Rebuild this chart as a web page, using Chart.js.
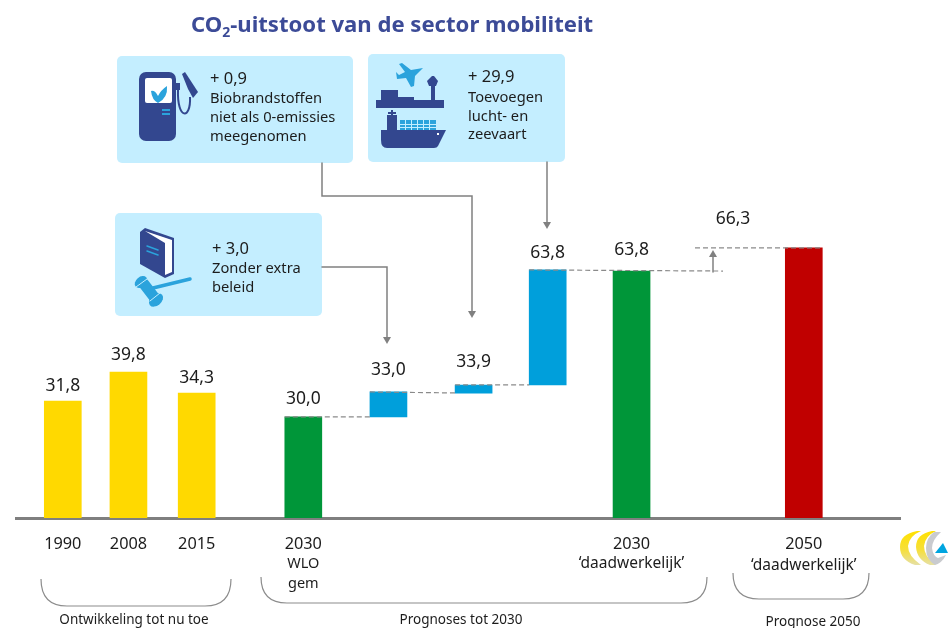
<!DOCTYPE html>
<html>
<head>
<meta charset="utf-8">
<title>CO2-uitstoot mobiliteit</title>
<script src="https://cdn.jsdelivr.net/npm/chart.js@4"></script>
<style>
  html, body { margin: 0; padding: 0; background: #fff; }
  canvas { display: block; }
</style>
</head>
<body>
<canvas id="co2Chart" width="949" height="628"></canvas>
<script>
// tick labels and printed values
const years = ['1990', '2008', '2015', '2030', '', '', '', '2030', '2050'];
const subLabels = ['', '', '', 'WLO|gem', '', '', '', '‘daadwerkelijk’', '‘daadwerkelijk’'];
const printedValues = ['31,8', '39,8', '34,3', '30,0', '33,0', '33,9', '63,8', '63,8', '66,3'];

// the source picture is schematic: bar heights don't follow the printed numbers exactly,
// so bar bottoms/tops are read off the bars themselves
const barBottoms = [0, 0, 0, 0, 27.5, 34.0, 36.2, 0, 0];
const barTops = [31.8, 39.7, 34.0, 27.5, 34.3, 36.2, 67.5, 67.2, 73.5];

// layout, not data
const slots = [0.72, 1.73, 2.78, 4.42, 5.73, 7.04, 8.18, 9.47, 12.12];
const barColors = ['#ffd900', '#ffd900', '#ffd900', '#009639', '#009fdb', '#009fdb', '#009fdb', '#009639', '#c00000'];
const labelLift = [16, 18, 16, 19, 23, 24, 18, 22, 30];

const NAVY = '#33478f';
const CYAN = '#2ba3dc';
const BOX = '#c4eeff';
const GREY = '#808080';
const INK = '#1c1c1c';
const FONT = '"Noto Sans", sans-serif';

function text(ctx, str, x, y, size, align, color, weight) {
    ctx.font = (weight || 'normal') + ' ' + size + 'px ' + FONT;
    ctx.fillStyle = color || INK;
    ctx.textAlign = align || 'left';
    ctx.textBaseline = 'middle';
    ctx.fillText(str, x, y);
}

function line(ctx, pts, color, width, dash) {
    ctx.save();
    ctx.strokeStyle = color;
    ctx.lineWidth = width;
    ctx.lineCap = dash ? 'butt' : 'round';
    ctx.setLineDash(dash || []);
    ctx.beginPath();
    pts.forEach((p, i) => i ? ctx.lineTo(p[0], p[1]) : ctx.moveTo(p[0], p[1]));
    ctx.stroke();
    ctx.restore();
}

function fillPath(ctx, d, color) {
    ctx.fillStyle = color;
    ctx.fill(new Path2D(d));
}

function arrowHead(ctx, x, y, dir) {
    // dir 1 = pointing down, -1 = pointing up
    ctx.fillStyle = GREY;
    ctx.beginPath();
    ctx.moveTo(x, y);
    ctx.lineTo(x - 4, y - 7 * dir);
    ctx.lineTo(x + 4, y - 7 * dir);
    ctx.closePath();
    ctx.fill();
}

function box(ctx, x, y, w, h) {
    ctx.fillStyle = BOX;
    ctx.beginPath();
    ctx.roundRect(x, y, w, h, 5);
    ctx.fill();
}

function drawPump(ctx) {
    ctx.fillStyle = NAVY;
    ctx.beginPath();
    ctx.roundRect(139, 72, 37, 69, 7);
    ctx.fill();
    ctx.fillRect(176, 83, 4, 7);
    ctx.fillStyle = '#fff';
    ctx.beginPath();
    ctx.roundRect(145, 78, 27, 25, 2);
    ctx.fill();
    fillPath(ctx, 'M151 91 Q155 90 158 96 Q161 90 167 86 Q168 98 158 103 Q152 100 151 91 Z', CYAN);
    ctx.fillStyle = CYAN;
    ctx.fillRect(162, 109, 8, 2);
    ctx.fillRect(162, 113, 8, 2);
    ctx.save();
    ctx.strokeStyle = NAVY;
    ctx.lineWidth = 2;
    ctx.beginPath();
    ctx.moveTo(178, 90);
    ctx.bezierCurveTo(177, 120, 191, 120, 190, 97);
    ctx.stroke();
    ctx.restore();
    fillPath(ctx, 'M182 74 L185 72 L198 92 L193 98 L188 89 Z', NAVY);
}

function drawPlanes(ctx) {
    // plane
    fillPath(ctx, 'M423 68 L411 70 L402 63 L399 64 L405 72 L399 75 L396 72 L397 79 L406 78 L411 87 L414 86 L415 76 Z', CYAN);
    // airport and dock
    ctx.fillStyle = NAVY;
    ctx.fillRect(376, 100, 68, 8);
    ctx.fillRect(381, 90, 17, 11);
    ctx.fillRect(398, 97, 16, 4);
    ctx.fillRect(431, 85, 4, 16);
    fillPath(ctx, 'M427 81 L432 76 L434 76 L438 81 L436 86 L429 86 Z', NAVY);
    // container ship
    ctx.fillStyle = CYAN;
    ctx.fillRect(400, 120, 36, 10);
    ctx.fillStyle = BOX;
    [405, 411, 417, 423, 429].forEach(x => ctx.fillRect(x, 120, 1, 10));
    ctx.fillRect(400, 124, 36, 1);
    ctx.fillRect(400, 127, 36, 1);
    ctx.fillStyle = NAVY;
    ctx.fillRect(387, 115, 10, 16);
    ctx.fillRect(391, 110, 2, 6);
    ctx.fillRect(388, 112, 8, 2);
    fillPath(ctx, 'M381 130 L446 130 L438 146 Q437 148 434 148 L387 148 Q381 148 381 140 Z', NAVY);
    ctx.fillStyle = '#fff';
    ctx.fillRect(437, 133, 2, 2);
}

function drawBook(ctx) {
    fillPath(ctx, 'M140 232 L145 228 L174 238 L174 274 L165 278 L140 264 Z', NAVY);
    fillPath(ctx, 'M145 231 L172 240 L172 272 L165 275 L165 243 Z', '#fff');
    line(ctx, [[147, 246], [158, 250]], CYAN, 1.5);
    line(ctx, [[147, 251], [158, 255]], CYAN, 1.5);
    // gavel
    line(ctx, [[153, 288], [190, 279]], CYAN, 3.5);
    line(ctx, [[144, 284], [154, 297]], CYAN, 11);
    ctx.fillStyle = CYAN;
    ctx.beginPath();
    ctx.ellipse(141, 282, 7, 5, -0.7, 0, 7);
    ctx.fill();
    ctx.beginPath();
    ctx.ellipse(156, 300, 8, 5.5, -0.7, 0, 7);
    ctx.fill();
    line(ctx, [[136, 287], [147, 279]], BOX, 1);
    line(ctx, [[150, 301], [160, 293]], BOX, 1);
}

function drawLogo(ctx) {
    const fade = ctx.createLinearGradient(0, 531, 0, 565);
    fade.addColorStop(0, '#ffe100');
    fade.addColorStop(0.55, '#f6df3a');
    fade.addColorStop(1, '#e6e0a6');
    fillPath(ctx, 'M917 531 Q900 534 900 547 Q900 560 915 565 L921 565 Q908 556 908 546 Q909 536 921 531 Z', fade);
    fillPath(ctx, 'M932 531 Q916 534 916 547 Q917 560 930 565 L936 565 Q924 557 924 546 Q925 536 936 531 Z', fade);
    fillPath(ctx, 'M934 532 L941 532 Q932 540 932 548 Q933 556 938 558 L946 555 Q942 563 935 565 Q926 560 926 548 Q926 538 934 532 Z', '#c9cbcf');
    fillPath(ctx, 'M935 553 L943 543 L948 553 Z', '#00a5e0');
}

function drawBrace(ctx, x1, x2, top, bottom, r) {
    ctx.save();
    ctx.strokeStyle = '#8c8c8c';
    ctx.lineWidth = 1.2;
    ctx.beginPath();
    ctx.moveTo(x1, top);
    ctx.quadraticCurveTo(x1, bottom, x1 + r, bottom);
    ctx.lineTo(x2 - r, bottom);
    ctx.quadraticCurveTo(x2, bottom, x2, top);
    ctx.stroke();
    ctx.restore();
}

// everything around the bars: title, callouts, connectors, value labels, braces
const annotations = {
    id: 'annotations',
    afterDatasetsDraw(chart) {
        const ctx = chart.ctx;
        const xS = chart.scales.x;
        const yS = chart.scales.y;
        const topPx = i => yS.getPixelForValue(barTops[i]);
        const barX = i => xS.getPixelForValue(slots[i]);

        // title with subscript
        let tx = 191;
        text(ctx, 'CO', tx, 26, 22.1, 'left', '#3c4b97', 'bold');
        tx += ctx.measureText('CO').width;
        text(ctx, '2', tx, 33, 14, 'left', '#3c4b97', 'bold');
        tx += ctx.measureText('2').width;
        text(ctx, '-uitstoot van de sector mobiliteit', tx, 26, 22.1, 'left', '#3c4b97', 'bold');

        // callout boxes
        box(ctx, 117, 56, 236, 107);
        box(ctx, 368, 54, 197, 108);
        box(ctx, 115, 213, 207, 103);
        drawPump(ctx);
        drawPlanes(ctx);
        drawBook(ctx);

        text(ctx, '+ 0,9', 210, 79, 16.5);
        text(ctx, 'Biobrandstoffen', 210, 99, 14.7);
        text(ctx, 'niet als 0-emissies', 210, 118, 14.7);
        text(ctx, 'meegenomen', 210, 137, 14.7);
        text(ctx, '+ 29,9', 468, 77, 16.5);
        text(ctx, 'Toevoegen', 468, 98, 14.7);
        text(ctx, 'lucht- en', 468, 117, 14.7);
        text(ctx, 'zeevaart', 468, 135, 14.7);
        text(ctx, '+ 3,0', 212, 249, 16.5);
        text(ctx, 'Zonder extra', 212, 269, 14.7);
        text(ctx, 'beleid', 212, 288, 14.7);

        // callout arrows
        line(ctx, [[322, 163], [322, 196], [472, 196], [472, 312]], GREY, 1.5);
        arrowHead(ctx, 472, 318, 1);
        line(ctx, [[547, 162], [547, 223]], GREY, 1.5);
        arrowHead(ctx, 547, 229, 1);
        line(ctx, [[322, 267], [387, 267], [387, 338]], GREY, 1.5);
        arrowHead(ctx, 387, 344, 1);

        // dashed connectors between the steps
        const dash = [5, 3];
        const half = 18.5;
        const dashColor = '#8a8a8a';
        line(ctx, [[barX(3) - half, topPx(3)], [barX(4) - half, topPx(3)]], dashColor, 1.2, dash);
        line(ctx, [[barX(4) - half, topPx(4)], [barX(5) - half, topPx(4) + 1]], dashColor, 1.2, dash);
        line(ctx, [[barX(5) - half, topPx(5)], [barX(6) - half, topPx(5)]], dashColor, 1.2, dash);
        line(ctx, [[barX(6) - half, topPx(6)], [723, topPx(7)]], dashColor, 1.2, dash);
        line(ctx, [[695, topPx(8)], [barX(8) + half, topPx(8)]], dashColor, 1.2, dash);
        line(ctx, [[713, 272], [713, 256]], GREY, 1.5);
        arrowHead(ctx, 713, 250, -1);

        // value labels
        printedValues.forEach((v, i) => {
            const x = i === 8 ? 733 : barX(i);
            text(ctx, v, x, topPx(i) - labelLift[i] + 1, 17.5, 'center');
        });

        // second lines under the ticks
        subLabels.forEach((s, i) => {
            const size = i === 3 ? 14.5 : 15.5;
            s.split('|').forEach((part, k) => {
                if (part) text(ctx, part, barX(i), 564 + (i === 8 ? 2 : 0) + k * 19.5, size, 'center');
            });
        });

        // braces and group captions
        drawBrace(ctx, 41, 231, 579, 606, 26);
        drawBrace(ctx, 261, 707, 577, 603, 26);
        drawBrace(ctx, 733, 869, 573, 599, 26);
        text(ctx, 'Ontwikkeling tot nu toe', 134, 620, 13.5, 'center');
        text(ctx, 'Prognoses tot 2030', 461, 620, 13.5, 'center');
        text(ctx, 'Prognose 2050', 813, 622, 13.5, 'center');

        drawLogo(ctx);
    }
};

const ctx = document.getElementById('co2Chart').getContext('2d');
new Chart(ctx, {
    type: 'bar',
    data: {
        datasets: [{
            data: slots.map((s, i) => ({ x: s, y: [barBottoms[i], barTops[i]] })),
            backgroundColor: barColors,
            barThickness: 37,
            borderWidth: 0,
            borderSkipped: false
        }]
    },
    options: {
        responsive: false,
        animation: false,
        layout: { padding: { top: 224, left: 16, right: 49, bottom: 0 } },
        plugins: { legend: { display: false }, tooltip: { enabled: false } },
        scales: {
            x: {
                type: 'linear',
                offset: false,
                min: 0,
                max: 13.6,
                grid: { display: false, drawTicks: false },
                border: { display: true, color: '#7f7f7f', width: 3 },
                afterFit: scale => { scale.height = 110; },
                afterBuildTicks: scale => { scale.ticks = slots.map(s => ({ value: s })); },
                ticks: {
                    autoSkip: false,
                    maxRotation: 0,
                    padding: 17,
                    color: INK,
                    font: { family: FONT, size: 16.3 },
                    callback: (value, index) => years[index]
                }
            },
            y: { display: false, min: 0, max: 80 }
        }
    },
    plugins: [annotations]
});
</script>
</body>
</html>
